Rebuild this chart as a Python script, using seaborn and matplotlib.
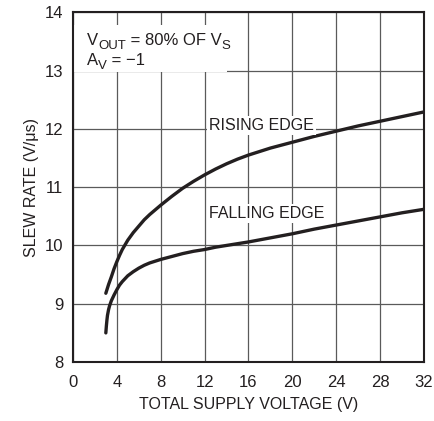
import matplotlib
matplotlib.use("Agg")
import matplotlib.pyplot as plt
from matplotlib.patches import Rectangle
import pandas as pd
import seaborn as sns

# slew rate vs total supply voltage
rise_v = [3, 3.25, 3.5, 3.75, 4, 4.25, 4.5, 5, 5.5, 6, 6.5, 7, 7.5, 8, 9, 10,
          11, 12, 13, 14, 15, 16, 18, 20, 22, 24, 26, 28, 30, 32]
rise_sr = [9.18, 9.33, 9.46, 9.60, 9.72, 9.83, 9.93, 10.09, 10.22, 10.33,
           10.44, 10.53, 10.61, 10.69, 10.84, 10.98, 11.10, 11.21, 11.31,
           11.40, 11.48, 11.55, 11.67, 11.77, 11.87, 11.96, 12.05, 12.13,
           12.21, 12.29]
fall_v = [3, 3.05, 3.1, 3.15, 3.25, 3.35, 3.5, 3.75, 4, 4.25, 4.5, 5, 5.5, 6,
          6.5, 7, 7.5, 8, 9, 10, 11, 12, 13, 14, 15, 16, 18, 20, 22, 24, 26,
          28, 30, 32]
fall_sr = [8.50, 8.62, 8.72, 8.80, 8.90, 8.97, 9.05, 9.15, 9.24, 9.32, 9.38,
           9.48, 9.55, 9.61, 9.66, 9.70, 9.73, 9.76, 9.81, 9.86, 9.90, 9.93,
           9.97, 10.00, 10.03, 10.06, 10.13, 10.20, 10.28, 10.35, 10.42,
           10.49, 10.56, 10.62]
xticks = [0, 4, 8, 12, 16, 20, 24, 28, 32]
yticks = [8, 9, 10, 11, 12, 13, 14]

sns.set_style("white")
plt.rcParams['font.family'] = ["Liberation Sans", "DejaVu Sans"]

ink = '#231f20'

df = pd.concat([
    pd.DataFrame({'v': rise_v, 'sr': rise_sr, 'edge': 'RISING EDGE'}),
    pd.DataFrame({'v': fall_v, 'sr': fall_sr, 'edge': 'FALLING EDGE'}),
])

fig = plt.figure(figsize=(4.34, 4.21), dpi=100)
ax = fig.add_axes([0.168, 0.140, 0.809, 0.831])

for edge, g in df.groupby('edge', sort=False):
    sns.lineplot(data=g, x='v', y='sr', ax=ax, color=ink, lw=2.4,
                 sort=False, estimator=None, zorder=3)

ax.set_xlim(0, 32)
ax.set_ylim(8, 14)
ax.set_xticks(xticks)
ax.set_xticklabels([str(t) for t in xticks])
ax.set_yticks(yticks)
ax.set_yticklabels([str(t) for t in yticks])
ax.set_axisbelow(True)
ax.grid(True, color='#5a5a5a', lw=0.9)
for s in ax.spines.values():
    s.set_color(ink)
    s.set_linewidth(1.5)
    s.set_zorder(5)
ax.tick_params(length=0, labelsize=12, colors=ink)
ax.tick_params(axis='x', pad=9)
ax.tick_params(axis='y', pad=7)
ax.set_xlabel('TOTAL SUPPLY VOLTAGE (V)', fontsize=11.5, color=ink, labelpad=5)
ax.set_ylabel('SLEW RATE (V/μs)', fontsize=11.5, color=ink, labelpad=4)

# white panel behind the condition note
ax.add_patch(Rectangle((0, 12.97), 14, 0.81, facecolor='white',
                       edgecolor='none', zorder=1))


def subscripted(x, y, parts, size=12, sub=9.5):
    # parts: list of (text, is_subscript), chained left to right
    first = ax.text(x, y, parts[0][0], fontsize=size, color=ink,
                    ha='left', va='baseline', zorder=4)
    prev, base = first, first
    for txt, is_sub in parts[1:]:
        t = ax.annotate(txt, xy=(1, 0), xycoords=(prev, base),
                        xytext=(0, -2.5 if is_sub else 0),
                        textcoords='offset points', fontsize=sub if is_sub else size,
                        color=ink, ha='left', va='bottom', zorder=4)
        prev = t


subscripted(1.3, 13.43, [('V', False), ('OUT', True), (' = 80% OF V', False), ('S', True)])
subscripted(1.3, 13.09, [('A', False), ('V', True), (' = \u22121', False)])

box = dict(facecolor='white', edgecolor='none', pad=1.5)
ax.text(17.2, 12.05, 'RISING EDGE', fontsize=11.5, ha='center', va='center',
        color=ink, bbox=box, zorder=4)
ax.text(17.7, 10.55, 'FALLING EDGE', fontsize=11.5, ha='center', va='center',
        color=ink, bbox=box, zorder=4)

fig.savefig('out.png', dpi=100)
